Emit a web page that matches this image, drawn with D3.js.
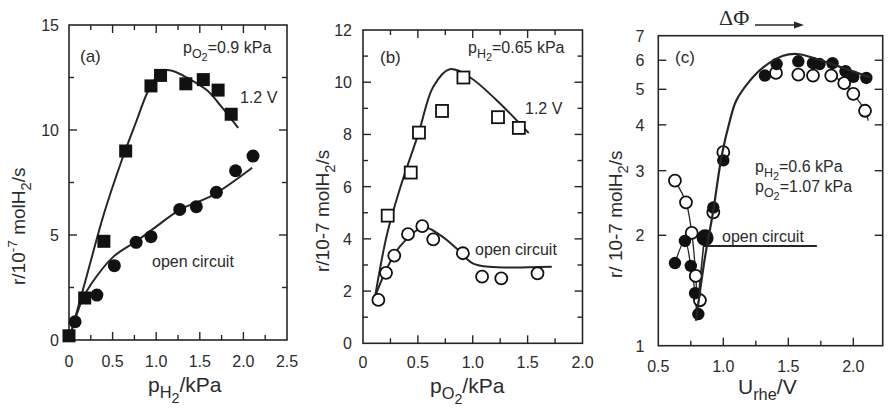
<!DOCTYPE html>
<html><head><meta charset="utf-8">
<script src="https://cdn.jsdelivr.net/npm/d3@7"></script>
<style>body{margin:0;background:#fff}svg{display:block}text{font-family:"Liberation Sans",Arial,Helvetica,sans-serif;fill:#2b2b2b}</style>
</head><body><svg id="chart" width="888" height="410"></svg>
<script>
// ---------- Panel (a): rate vs pH2 ----------
const aSquareX = [0, 0.18, 0.40, 0.65, 0.94, 1.05, 1.34, 1.54, 1.71, 1.86];
const aSquareY = [0.2, 2.0, 4.7, 9.0, 12.1, 12.6, 12.2, 12.4, 11.9, 10.75];
const aCircleX = [0.07, 0.32, 0.52, 0.77, 0.94, 1.27, 1.46, 1.69, 1.91, 2.11];
const aCircleY = [0.87, 2.14, 3.54, 4.65, 4.92, 6.22, 6.35, 7.03, 8.06, 8.76];
const aFitVX = [0, 0.2, 0.4, 0.6, 0.78, 0.9, 1.0, 1.1, 1.2, 1.35, 1.58, 1.75, 1.94];
const aFitVY = [0, 3.0, 6.0, 8.5, 10.5, 11.8, 12.5, 12.85, 12.8, 12.5, 11.9, 11.1, 10.1];
const aFitOCX = [0, 0.15, 0.26, 0.51, 0.77, 1.0, 1.27, 1.65, 2.1];
const aFitOCY = [0, 1.9, 2.7, 3.97, 4.7, 5.4, 6.2, 6.9, 8.2];
const aXTicks = [0, 0.5, 1.0, 1.5, 2.0, 2.5];
const aXTickLabels = ["0", "0.5", "1.0", "1.5", "2.0", "2.5"];
const aYTicks = [0, 5, 10, 15];
const aYTickLabels = ["0", "5", "10", "15"];

// ---------- Panel (b): rate vs pO2 ----------
const bSquareX = [0.225, 0.435, 0.51, 0.72, 0.915, 1.23, 1.42];
const bSquareY = [4.89, 6.54, 8.07, 8.9, 10.18, 8.66, 8.25];
const bCircleX = [0.14, 0.21, 0.285, 0.41, 0.54, 0.64, 0.91, 1.085, 1.26, 1.59];
const bCircleY = [1.66, 2.7, 3.36, 4.18, 4.49, 3.98, 3.45, 2.55, 2.49, 2.68];
const bFitVX = [0.11, 0.22, 0.335, 0.51, 0.64, 0.79, 0.97, 1.22, 1.51];
const bFitVY = [1.79, 4.2, 5.9, 8.1, 9.83, 10.5, 10.2, 9.3, 8.05];
const bFitOCX = [0.11, 0.21, 0.335, 0.55, 0.7, 0.85, 1.0, 1.15, 1.72];
const bFitOCY = [1.79, 2.8, 3.7, 4.44, 4.15, 3.64, 3.06, 2.93, 2.93];
const bXTicks = [0, 0.5, 1.0, 1.5, 2.0];
const bXTickLabels = ["0", "0.5", "1.0", "1.5", "2.0"];
const bYTicks = [0, 2, 4, 6, 8, 10, 12];
const bYTickLabels = ["0", "2", "4", "6", "8", "10", "12"];

// ---------- Panel (c): rate vs Urhe (log) ----------
const cFilledX = [0.628, 0.705, 0.75, 0.783, 0.808, 0.923, 1.0, 1.32, 1.41, 1.577, 1.69, 1.74, 1.84, 1.94, 2.0, 2.1];
const cFilledY = [1.68, 1.93, 1.65, 1.39, 1.22, 2.38, 3.2, 5.45, 5.86, 5.96, 5.89, 5.86, 5.89, 5.6, 5.41, 5.37];
const cOpenX = [0.628, 0.713, 0.757, 0.788, 0.82, 0.923, 1.0, 1.405, 1.577, 1.69, 1.83, 1.93, 2.0, 2.09];
const cOpenY = [2.82, 2.46, 2.03, 1.55, 1.33, 2.31, 3.37, 5.54, 5.48, 5.45, 5.45, 5.2, 4.86, 4.37];
const cOpenLeftLineX = [0.628, 0.713, 0.757, 0.788, 0.80];
const cOpenLeftLineY = [2.82, 2.46, 2.03, 1.55, 1.2];
const cFilledLeftLineX = [0.628, 0.705, 0.75, 0.783, 0.795];
const cFilledLeftLineY = [1.68, 1.93, 1.65, 1.39, 1.2];
const cOpenRightLineX = [1.83, 1.93, 2.0, 2.09, 2.115];
const cOpenRightLineY = [5.45, 5.2, 4.86, 4.37, 4.11];
const cFitX = [0.79, 0.86, 0.92, 0.988, 1.05, 1.10, 1.205, 1.307, 1.46, 1.565, 1.72, 1.87, 2.13];
const cFitY = [1.17, 1.75, 2.3, 3.3, 4.1, 4.66, 5.28, 5.74, 6.17, 6.24, 6.05, 5.8, 5.39];
const cOCDropX = [0.848, 0.79];
const cOCDropY = [1.87, 1.17];
const cOCLineX = [0.848, 1.72];
const cOCLineY = [1.87, 1.87];
const cOCPointX = [0.86];
const cOCPointY = [1.97];
const cXTicks = [0.5, 1.0, 1.5, 2.0];
const cXTickLabels = ["0.5", "1.0", "1.5", "2.0"];
const cYTicks = [1, 2, 3, 4, 5, 6, 7];
const cYTickLabels = ["1", "2", "3", "4", "5", "6", "7"];

const INK = "#262626";
const svg = d3.select("#chart");
const zip = (xs, ys) => xs.map((x, i) => [x, ys[i]]);

// rich text: segments [text, level]; level 0 normal, 1 sub, 2 subsub, -1 sup
function rich(g, x, y, segs, size, anchor, rotate) {
  const t = g.append("text").attr("font-size", size).attr("text-anchor", anchor || "start");
  if (rotate) t.attr("transform", `translate(${x},${y}) rotate(-90)`);
  else t.attr("x", x).attr("y", y);
  let cur = 0;
  const off = l => l === 0 ? 0 : l === 1 ? 0.3 : l === 2 ? 0.5 : -0.4;
  const fs = l => l === 0 ? 1 : l === 1 ? 0.78 : l === 2 ? 0.68 : 0.72;
  segs.forEach(([s, l]) => {
    const target = off(l) * size;
    t.append("tspan").attr("dy", target - cur).attr("font-size", size * fs(l)).text(s);
    cur = target;
  });
  return t;
}

function frame(g, x, y, xTicks, xLabels, xMinor, yTicks, yLabels, yMinor, opt) {
  const [x0, x1] = x.range(), [y0, y1] = y.range();
  g.append("rect").attr("x", x0).attr("y", y1).attr("width", x1 - x0).attr("height", y0 - y1)
    .attr("fill", "none").attr("stroke", INK).attr("stroke-width", 1.6);
  const tk = g.append("g").attr("stroke", INK).attr("stroke-width", 1.4);
  const allX = xTicks.map(v => [v, 8]).concat(xMinor.map(v => [v, 5]));
  allX.forEach(([v, L]) => {
    const px = x(v);
    if (px <= x0 + 1 || px >= x1 - 1) return;
    tk.append("line").attr("x1", px).attr("x2", px).attr("y1", y0).attr("y2", y0 - L);
    if (opt.topTicks) tk.append("line").attr("x1", px).attr("x2", px).attr("y1", y1).attr("y2", y1 + L);
  });
  const allY = yTicks.map(v => [v, 8]).concat(yMinor.map(v => [v, 5]));
  allY.forEach(([v, L]) => {
    const py = y(v);
    if (py <= y1 + 1 || py >= y0 - 1) return;
    tk.append("line").attr("y1", py).attr("y2", py).attr("x1", x0).attr("x2", x0 + L);
    tk.append("line").attr("y1", py).attr("y2", py).attr("x1", x1).attr("x2", x1 - L);
  });
  xTicks.forEach((v, i) => g.append("text").attr("x", x(v)).attr("y", y0 + opt.xGap).attr("text-anchor", "middle")
    .attr("font-size", 16).attr("fill", "#3a3a3a").text(xLabels[i]));
  yTicks.forEach((v, i) => g.append("text").attr("x", x0 - opt.yGap).attr("y", y(v) + 6).attr("text-anchor", "end")
    .attr("font-size", 16).attr("fill", "#3a3a3a").text(yLabels[i]));
}

function curve(g, x, y, xs, ys, w, type) {
  g.append("path").datum(zip(xs, ys)).attr("fill", "none").attr("stroke", INK).attr("stroke-width", w)
    .attr("d", d3.line().x(d => x(d[0])).y(d => y(d[1])).curve(type || d3.curveCatmullRom.alpha(0.5)));
}

// ===== Panel a =====
{
  const g = svg.append("g");
  const x = d3.scaleLinear().domain([0, 2.5]).range([69, 287]);
  const y = d3.scaleLinear().domain([0, 15]).range([340, 25]);
  frame(g, x, y, aXTicks, aXTickLabels, d3.range(0.25, 2.5, 0.5), aYTicks, aYTickLabels, [2.5, 7.5, 12.5],
    { topTicks: true, yGap: 10, xGap: 27 });
  curve(g, x, y, aFitVX, aFitVY, 2);
  curve(g, x, y, aFitOCX, aFitOCY, 2);
  g.selectAll(".sq").data(zip(aSquareX, aSquareY)).join("rect")
    .attr("x", d => x(d[0]) - 6.5).attr("y", d => y(d[1]) - 6.5).attr("width", 13).attr("height", 13).attr("fill", "#111");
  g.selectAll(".ci").data(zip(aCircleX, aCircleY)).join("circle")
    .attr("cx", d => x(d[0])).attr("cy", d => y(d[1])).attr("r", 6.5).attr("fill", "#111");
  g.append("text").attr("x", 80).attr("y", 62).attr("font-size", 17).text("(a)");
  rich(g, 183, 53, [["p", 0], ["O", 1], ["2", 2], ["=0.9 kPa", 0]], 16);
  g.append("text").attr("x", 240).attr("y", 103).attr("font-size", 16).text("1.2 V");
  g.append("text").attr("x", 152).attr("y", 267).attr("font-size", 16).text("open circuit");
  rich(g, 148, 392, [["p", 0], ["H", 1], ["2", 2], ["/kPa", 0]], 21);
  rich(g, 25, 285, [["r/10", 0], ["-7", -1], [" molH", 0], ["2", 1], ["/s", 0]], 19, "start", true);
}

// ===== Panel b =====
{
  const g = svg.append("g");
  const x = d3.scaleLinear().domain([0, 2.0]).range([363, 582.5]);
  const y = d3.scaleLinear().domain([0, 12]).range([343.3, 30]);
  frame(g, x, y, bXTicks, bXTickLabels, d3.range(0.25, 2.0, 0.5), bYTicks, bYTickLabels, d3.range(1, 12, 2),
    { topTicks: true, yGap: 11, xGap: 25 });
  curve(g, x, y, bFitVX, bFitVY, 2);
  curve(g, x, y, bFitOCX, bFitOCY, 2);
  g.selectAll(".sq").data(zip(bSquareX, bSquareY)).join("rect")
    .attr("x", d => x(d[0]) - 6).attr("y", d => y(d[1]) - 6).attr("width", 12).attr("height", 12)
    .attr("fill", "#fff").attr("stroke", "#111").attr("stroke-width", 1.8);
  g.selectAll(".ci").data(zip(bCircleX, bCircleY)).join("circle")
    .attr("cx", d => x(d[0])).attr("cy", d => y(d[1])).attr("r", 6).attr("fill", "#fff").attr("stroke", "#111").attr("stroke-width", 1.8);
  g.append("text").attr("x", 380).attr("y", 63).attr("font-size", 17).text("(b)");
  rich(g, 468, 53, [["p", 0], ["H", 1], ["2", 2], ["=0.65 kPa", 0]], 16);
  g.append("text").attr("x", 525).attr("y", 114).attr("font-size", 16).text("1.2 V");
  g.append("text").attr("x", 475).attr("y", 255).attr("font-size", 16).text("open circuit");
  rich(g, 430, 393, [["p", 0], ["O", 1], ["2", 2], ["/kPa", 0]], 21);
  rich(g, 329, 272, [["r/10-7 molH", 0], ["2", 1], ["/s", 0]], 19, "start", true);
}

// ===== Panel c =====
{
  const g = svg.append("g");
  const x = d3.scaleLinear().domain([0.5, 2.226]).range([658.3, 882.7]);
  const y = d3.scaleLog().domain([1, 7]).range([345.7, 35.7]);
  frame(g, x, y, cXTicks, cXTickLabels, [0.75, 1.25, 1.75], cYTicks, cYTickLabels, [],
    { topTicks: false, yGap: 14, xGap: 26 });
  curve(g, x, y, cOpenLeftLineX, cOpenLeftLineY, 1.3);
  curve(g, x, y, cFilledLeftLineX, cFilledLeftLineY, 1.3);
  curve(g, x, y, cOpenRightLineX, cOpenRightLineY, 1.3);
  curve(g, x, y, cOCDropX, cOCDropY, 1.6, d3.curveLinear);
  curve(g, x, y, cOCLineX, cOCLineY, 1.8, d3.curveLinear);
  g.selectAll(".op").data(zip(cOpenX, cOpenY)).join("circle")
    .attr("cx", d => x(d[0])).attr("cy", d => y(d[1])).attr("r", 6).attr("fill", "#fff").attr("stroke", "#111").attr("stroke-width", 1.8);
  g.selectAll(".fi").data(zip(cFilledX, cFilledY)).join("circle")
    .attr("cx", d => x(d[0])).attr("cy", d => y(d[1])).attr("r", 6.2).attr("fill", "#111");
  g.selectAll(".oc").data(zip(cOCPointX, cOCPointY)).join("circle")
    .attr("cx", d => x(d[0])).attr("cy", d => y(d[1])).attr("r", 8.5).attr("fill", "#111");
  curve(g, x, y, cFitX, cFitY, 2.2);
  g.append("text").attr("x", 675).attr("y", 63).attr("font-size", 17).text("(c)");
  rich(g, 755, 172, [["p", 0], ["H", 1], ["2", 2], ["=0.6 kPa", 0]], 16);
  rich(g, 755, 192, [["p", 0], ["O", 1], ["2", 2], ["=1.07 kPa", 0]], 16);
  g.append("text").attr("x", 722).attr("y", 242).attr("font-size", 16).text("open circuit");
  g.append("text").attr("x", 719).attr("y", 25).attr("font-size", 22)
    .style("font-family", "'Liberation Serif','DejaVu Serif',serif").text("ΔΦ");
  g.append("line").attr("x1", 755).attr("x2", 796).attr("y1", 25).attr("y2", 25).attr("stroke", INK).attr("stroke-width", 1.6);
  g.append("path").attr("d", "M804,25 L794,21.5 L794,28.5 Z").attr("fill", INK);
  rich(g, 738, 394, [["U", 0], ["rhe", 1], ["/V", 0]], 21);
  rich(g, 622, 278, [["r/ 10-7 molH", 0], ["2", 1], ["/s", 0]], 19, "start", true);
}
</script></body></html>
